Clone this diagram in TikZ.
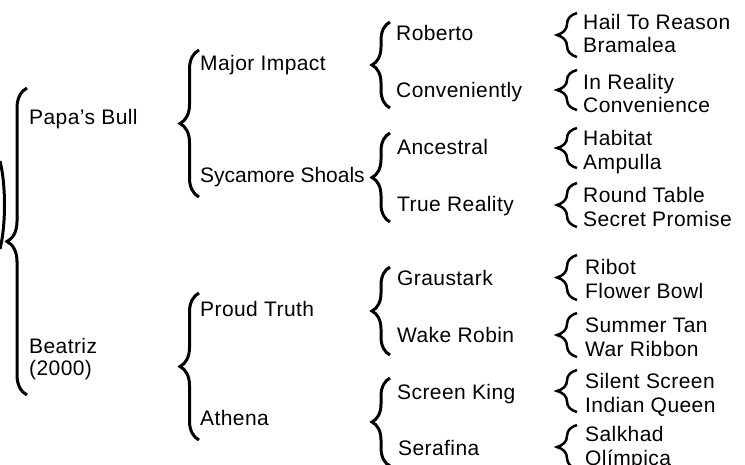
\documentclass[tikz,border=0pt]{standalone}
\usepackage{fontspec}
\setmainfont[LetterSpace=2]{Liberation Sans}
\usetikzlibrary{decorations.pathreplacing}
\begin{document}
\begin{tikzpicture}[x=1pt,y=-1pt,
  lbl/.style={anchor=base west,inner sep=0pt,font=\fontsize{21}{22}\selectfont},
  br/.style={decorate,decoration={brace,amplitude=#1},line width=3pt},
  sbr/.style={decorate,decoration={brace,amplitude=#1},line width=2.5pt},
]
\useasboundingbox (0,0) rectangle (745,464);
\clip (0,0) rectangle (745,464);
% level 0 (partial)
\coordinate (z0t) at (0,161);
\coordinate (z0b) at (0,249);
\draw[line width=3pt] (z0t) .. controls (6,185) and (6,225) .. (z0b);
% level 1
\node[lbl] (papa) at (29,124.5) {Papa’s Bull};
\node[lbl] (beat) at (29,353.5) {Beatriz};
\node[lbl] (beat2) at (29,375.5) {(2000)};
\coordinate (b1t) at (27,88);
\coordinate (b1b) at (27,395);
\draw[br=20pt] (b1b) -- (b1t);
% level 2
\node[lbl] (major) at (200,70.5) {Major Impact};
\node[lbl] (syc) at (200,182.5) {\addfontfeature{LetterSpace=0}Sycamore Shoals};
\node[lbl] (proud) at (200,316.5) {Proud Truth};
\node[lbl] (ath) at (200,425.5) {Athena};
\coordinate (b2at) at (199,50);
\coordinate (b2ab) at (199,197);
\coordinate (b2bt) at (199,293);
\coordinate (b2bb) at (199,440);
\draw[br=19pt] (b2ab) -- (b2at);
\draw[br=19pt] (b2bb) -- (b2bt);
% level 3
\node[lbl] (rob) at (396,40.5) {Roberto};
\node[lbl] (conv) at (396,97.5) {Conveniently};
\node[lbl] (anc) at (397,154.5) {Ancestral};
\node[lbl] (true) at (397,211.5) {True Reality};
\node[lbl] (grau) at (397,285.5) {Graustark};
\node[lbl] (wake) at (397,342.5) {Wake Robin};
\node[lbl] (scr) at (397,399.5) {Screen King};
\node[lbl] (sera) at (398,455.5) {Serafina};
\coordinate (b3at) at (390,22);  \coordinate (b3ab) at (390,108);
\coordinate (b3bt) at (390,133); \coordinate (b3bb) at (390,222);
\coordinate (b3ct) at (390,267); \coordinate (b3cb) at (390,355);
\coordinate (b3dt) at (390,378); \coordinate (b3db) at (390,466);
\draw[br=18pt] (b3ab) -- (b3at);
\draw[br=18pt] (b3bb) -- (b3bt);
\draw[br=18pt] (b3cb) -- (b3ct);
\draw[br=18pt] (b3db) -- (b3dt);
% level 4
\node[lbl] (hail) at (583,29) {Hail To Reason};
\node[lbl] (bram) at (583,52) {Bramalea};
\node[lbl] (inr) at (583,89) {In Reality};
\node[lbl] (conve) at (583,112) {Convenience};
\node[lbl] (hab) at (583,145) {Habitat};
\node[lbl] (amp) at (583,169) {Ampulla};
\node[lbl] (round) at (583,202) {Round Table};
\node[lbl] (secr) at (583,226) {Secret Promise};
\node[lbl] (ribot) at (585,274) {Ribot};
\node[lbl] (flow) at (585,298) {Flower Bowl};
\node[lbl] (summ) at (585,332) {Summer Tan};
\node[lbl] (warr) at (585,356) {War Ribbon};
\node[lbl] (sil) at (585,388) {Silent Screen};
\node[lbl] (ind) at (585,412) {Indian Queen};
\node[lbl] (salk) at (585,441) {Salkhad};
\node[lbl] (olim) at (585,465) {Olímpica};
\coordinate (b4at) at (577,13);  \coordinate (b4ab) at (577,57);
\coordinate (b4bt) at (577,70);  \coordinate (b4bb) at (577,110);
\coordinate (b4ct) at (577,128); \coordinate (b4cb) at (577,168);
\coordinate (b4dt) at (577,183); \coordinate (b4db) at (577,227);
\coordinate (b4et) at (577,255); \coordinate (b4eb) at (577,300);
\coordinate (b4ft) at (577,313); \coordinate (b4fb) at (577,357);
\coordinate (b4gt) at (577,370); \coordinate (b4gb) at (577,412);
\coordinate (b4ht) at (577,425); \coordinate (b4hb) at (577,469);
\foreach \p in {a,b,c,d,e,f,g,h}
  \draw[sbr=20pt] (b4\p b) -- (b4\p t);
\end{tikzpicture}
\end{document}
